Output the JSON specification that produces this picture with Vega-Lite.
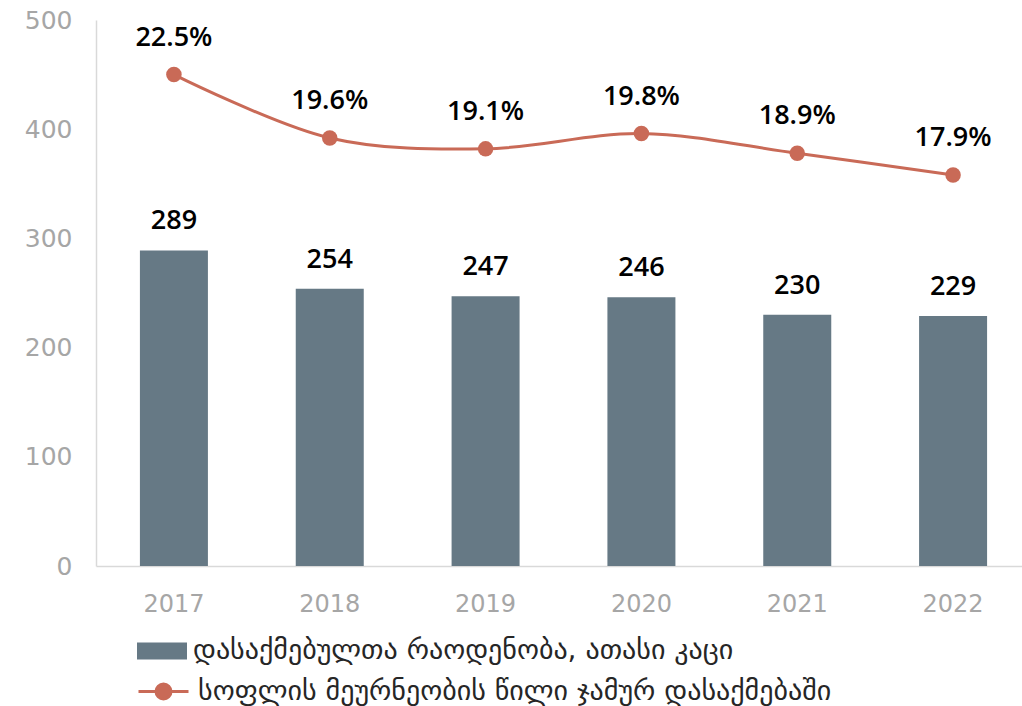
{
  "$schema": "https://vega.github.io/schema/vega-lite/v6.json",
  "autosize": {"type": "none"},
  "padding": {"left": 96, "top": 20, "right": 0, "bottom": 140},
  "width": 926,
  "height": 546,
  "background": "white",
  "config": {
    "view": {"stroke": null},
    "font": "Open Sans"
  },
  "data": {
    "values": [
      {"year": "2017", "employed": 289, "share": 0.225},
      {"year": "2018", "employed": 254, "share": 0.196},
      {"year": "2019", "employed": 247, "share": 0.191},
      {"year": "2020", "employed": 246, "share": 0.198},
      {"year": "2021", "employed": 230, "share": 0.189},
      {"year": "2022", "employed": 229, "share": 0.179}
    ]
  },
  "encoding": {
    "x": {
      "field": "year",
      "type": "ordinal",
      "scale": {"paddingInner": 0, "paddingOuter": 0, "range": [0, 935]},
      "axis": {
        "title": null,
        "labelAngle": 0,
        "labelFont": "DejaVu Sans",
        "labelFontSize": 24,
        "labelColor": "#a6a6a6",
        "labelPadding": 26,
        "ticks": false,
        "domainColor": "#d9d9d9",
        "domainWidth": 1.5,
        "grid": false
      }
    }
  },
  "layer": [
    {
      "layer": [
        {
          "mark": {"type": "bar", "size": 68},
          "encoding": {
            "y": {
              "field": "employed",
              "type": "quantitative",
              "scale": {"domain": [0, 500], "nice": false},
              "axis": {
                "title": null,
                "values": [0, 100, 200, 300, 400, 500],
                "labelFont": "DejaVu Sans",
                "labelFontSize": 25,
                "labelColor": "#a6a6a6",
                "labelPadding": 24,
                "ticks": false,
                "grid": false,
                "domainColor": "#d9d9d9",
                "domainWidth": 1.5
              }
            },
            "fill": {
              "datum": "დასაქმებულთა რაოდენობა, ათასი კაცი",
              "type": "nominal",
              "scale": {"range": ["#667985"]},
              "legend": {
                "title": null,
                "orient": "none",
                "legendX": 41,
                "legendY": 606,
                "symbolType": "M-1,-0.34H1V0.34H-1Z",
                "symbolSize": 2500,
                "symbolStrokeWidth": 0,
                "labelFontSize": 28,
                "labelFont": "DejaVu Sans",
                "labelColor": "#262626",
                "labelOffset": 6,
                "labelLimit": 900
              }
            }
          }
        },
        {
          "mark": {"type": "text", "baseline": "bottom", "dy": -15, "fontSize": 27, "fontWeight": 600, "color": "#000000"},
          "encoding": {
            "y": {"field": "employed", "type": "quantitative"},
            "text": {"field": "employed", "type": "quantitative"}
          }
        }
      ]
    },
    {
      "layer": [
        {
          "mark": {"type": "line", "interpolate": "catmull-rom", "strokeWidth": 3},
          "encoding": {
            "y": {
              "field": "share",
              "type": "quantitative",
              "scale": {"domain": [0, 0.25], "nice": false},
              "axis": null
            },
            "stroke": {
              "datum": "სოფლის მეურნეობის წილი ჯამურ დასაქმებაში",
              "type": "nominal",
              "scale": {"range": ["#c96a57"]},
              "legend": {
                "title": null,
                "orient": "none",
                "legendX": 41,
                "legendY": 645,
                "symbolType": "M-1,0H1M-0.3,0A0.3,0.3 0 1,0 0.3,0A0.3,0.3 0 1,0 -0.3,0Z",
                "symbolSize": 2500,
                "symbolStrokeWidth": 3,
                "symbolFillColor": "#c96a57",
                "labelFontSize": 28,
                "labelFont": "DejaVu Sans",
                "labelColor": "#262626",
                "labelOffset": 8,
                "labelLimit": 900,
                "encode": {"symbols": {"update": {"fill": {"value": "#c96a57"}, "stroke": {"value": "#c96a57"}, "strokeWidth": {"value": 3}}}}
              }
            }
          }
        },
        {
          "mark": {"type": "point", "filled": true, "size": 240, "opacity": 1, "color": "#c96a57"},
          "encoding": {
            "y": {"field": "share", "type": "quantitative"}
          }
        },
        {
          "mark": {"type": "text", "baseline": "bottom", "dy": -23, "fontSize": 27, "fontWeight": 600, "color": "#000000"},
          "encoding": {
            "y": {"field": "share", "type": "quantitative"},
            "text": {"field": "share", "type": "quantitative", "format": ".1%"}
          }
        }
      ]
    }
  ],
  "resolve": {"scale": {"y": "independent", "fill": "independent", "stroke": "independent"}}
}
